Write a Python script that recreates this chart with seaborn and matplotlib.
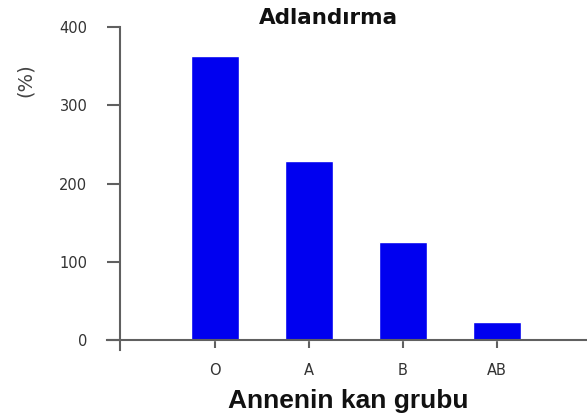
import pandas as pd
import matplotlib
matplotlib.use('Agg')
import matplotlib.pyplot as plt
import seaborn as sns

# Data
groups = ['O', 'A', 'B', 'AB']
values = [363, 229, 126, 23]
yticks = [0, 100, 200, 300, 400]

df = pd.DataFrame({'grup': groups, 'deger': values})

sns.set_style('white')
plt.rcParams['font.family'] = ['DejaVu Sans']

fig = plt.figure(figsize=(5.87, 4.18), dpi=100)
ax = fig.add_axes([0.182, 0.163, 0.818, 0.772])

sns.barplot(x='grup', y='deger', data=df, color='#0000f0', saturation=1,
            width=0.51, ax=ax)

axis_col = '#606060'
ax.set_xlim(-1.15, 3.96)
ax.set_ylim(-12, 400)
ax.spines['top'].set_visible(False)
ax.spines['right'].set_visible(False)
ax.spines['bottom'].set_position(('data', 0))
ax.spines['left'].set_position(('data', -1.01))
for s in ['bottom', 'left']:
    ax.spines[s].set_color(axis_col)
    ax.spines[s].set_linewidth(1.5)

ax.set_yticks(yticks)
ax.tick_params(axis='y', length=9.5, width=1.5, color=axis_col, pad=14,
               labelsize=10.5, labelcolor='#333333', left=True)
ax.tick_params(axis='x', length=6, width=1.5, color=axis_col, pad=10,
               labelsize=10.5, labelcolor='#333333', bottom=True)

ax.set_xlabel('')
ax.set_ylabel('')
fig.text(0.559, 0.957, 'Adlandırma', fontsize=15.5, fontweight='bold',
         ha='center', va='center', color='#111111')
fig.text(0.593, 0.041, 'Annenin kan grubu', fontsize=19, fontweight='bold',
         family='Liberation Sans', ha='center', va='center', color='#111111')
fig.text(0.043, 0.809, '(%)', fontsize=14, rotation=90, color='#444444',
         ha='center', va='center')

fig.savefig('out.png', dpi=100)
